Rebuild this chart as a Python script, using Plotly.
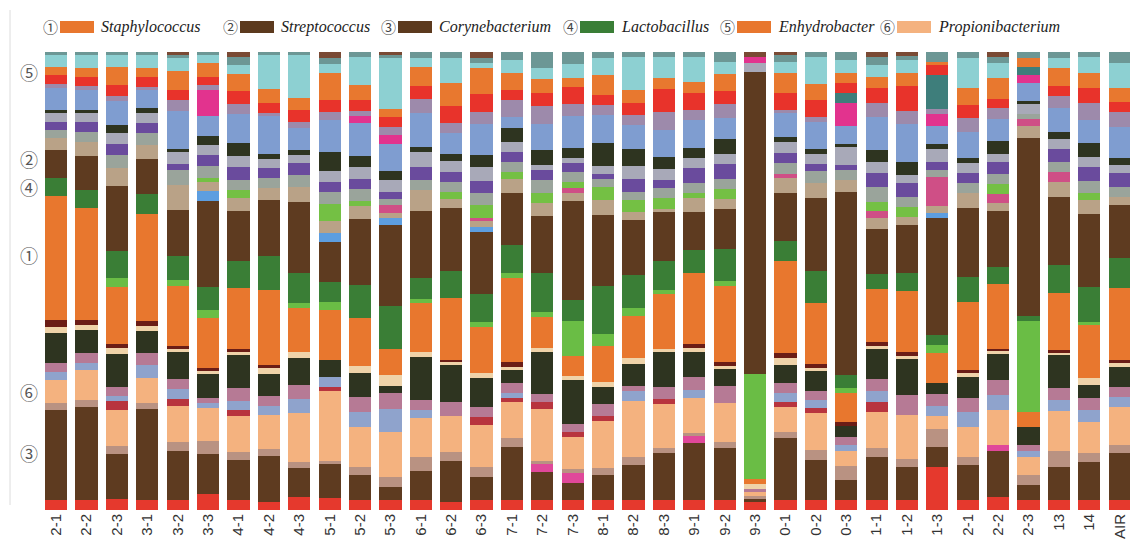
import plotly.graph_objects as go

# Sample labels along the x axis
samples = ["2-1", "2-2", "2-3", "3-1", "3-2", "3-3", "4-1", "4-2", "4-3",
           "5-1", "5-2", "5-3", "6-1", "6-2", "6-3", "7-1", "7-2", "7-3",
           "8-1", "8-2", "8-3", "9-1", "9-2", "9-3", "0-1", "0-2", "0-3",
           "1-1", "1-2", "1-3", "2-1", "2-2", "2-3", "13", "14", "AIR"]

# Relative abundance of each genus per sample (stack is normalised to 100 %), listed bottom to top
red_base = [10, 10, 11, 10, 10, 16, 10, 8, 13, 12, 10, 10, 10, 8, 10, 10, 10, 10, 10, 10, 10, 10, 10, 8, 10, 10, 10, 10, 10, 42, 10, 13, 10, 10, 10, 10]
corynebacterium = [90, 93, 44, 90, 48, 39, 38, 45, 29, 35, 25, 13, 28, 40, 22, 53, 27, 17, 25, 35, 45, 57, 52, 3, 62, 40, 20, 43, 32, 20, 35, 45, 15, 32, 38, 47]
lo_magenta = [0, 0, 0, 0, 0, 0, 0, 0, 0, 0, 0, 0, 0, 0, 0, 0, 8, 10, 0, 0, 0, 7, 0, 0, 0, 0, 0, 0, 0, 0, 0, 6, 0, 0, 0, 0]
lo_tan = [7, 7, 8, 6, 9, 13, 8, 7, 6, 2, 7, 9, 14, 9, 10, 9, 3, 3, 7, 8, 5, 3, 6, 3, 6, 10, 13, 9, 8, 18, 8, 0, 10, 16, 9, 8]
propionibacterium = [23, 30, 35, 25, 36, 33, 35, 33, 49, 71, 40, 45, 38, 36, 41, 36, 50, 32, 46, 57, 42, 35, 39, 4, 25, 37, 15, 36, 43, 12, 30, 34, 18, 39, 31, 38]
lo_red = [0, 0, 9, 0, 7, 0, 6, 0, 0, 4, 0, 0, 0, 0, 7, 4, 7, 5, 5, 0, 5, 0, 0, 0, 5, 5, 0, 10, 0, 0, 0, 0, 0, 0, 0, 0]
lo_blue = [8, 7, 5, 12, 10, 5, 9, 9, 14, 10, 15, 22, 8, 0, 0, 5, 0, 0, 0, 10, 0, 8, 0, 0, 10, 8, 6, 12, 0, 10, 15, 15, 6, 11, 12, 10]
lo_pink = [9, 10, 8, 12, 10, 5, 12, 10, 14, 0, 15, 16, 10, 14, 10, 10, 8, 8, 12, 5, 11, 13, 16, 3, 10, 10, 8, 12, 20, 12, 14, 15, 6, 12, 12, 10]
lo_olive = [30, 23, 33, 22, 27, 24, 32, 21, 27, 17, 23, 7, 42, 36, 28, 13, 41, 43, 17, 22, 34, 25, 17, 0, 18, 20, 11, 30, 35, 11, 21, 26, 17, 32, 13, 20]
lo_cream = [6, 5, 5, 5, 3, 2, 3, 6, 6, 0, 7, 11, 5, 3, 5, 3, 4, 4, 5, 6, 3, 4, 3, 5, 7, 3, 0, 3, 3, 0, 4, 3, 0, 2, 7, 4]
lo_darkred = [7, 5, 4, 5, 3, 3, 3, 3, 0, 0, 0, 0, 0, 2, 0, 5, 0, 0, 0, 0, 0, 4, 4, 0, 5, 4, 4, 4, 4, 0, 3, 2, 0, 3, 0, 3]
staphylococcus = [124, 112, 56, 106, 59, 50, 59, 73, 44, 50, 47, 25, 48, 61, 45, 84, 30, 20, 36, 42, 53, 72, 76, 5, 92, 61, 28, 53, 60, 29, 68, 64, 15, 56, 53, 72]
lightgreen = [0, 0, 9, 0, 6, 8, 0, 0, 5, 8, 0, 0, 4, 0, 5, 5, 5, 35, 12, 8, 4, 0, 5, 106, 0, 0, 5, 0, 0, 8, 0, 0, 91, 0, 3, 0]
lactobacillus = [18, 18, 26, 20, 24, 23, 26, 33, 30, 20, 33, 42, 21, 27, 27, 28, 38, 20, 48, 34, 28, 23, 32, 0, 20, 32, 13, 15, 18, 10, 25, 16, 5, 27, 35, 30]
streptococcus = [28, 34, 64, 34, 45, 85, 49, 55, 71, 41, 65, 80, 66, 62, 60, 52, 55, 98, 70, 55, 47, 38, 40, 305, 48, 73, 180, 45, 47, 115, 69, 55, 177, 67, 72, 53]
mid_sky = [0, 0, 0, 0, 0, 10, 0, 0, 0, 9, 0, 7, 0, 0, 5, 0, 0, 0, 0, 0, 0, 0, 0, 0, 0, 0, 0, 0, 0, 5, 0, 0, 0, 0, 0, 0]
mid_tan = [12, 14, 18, 14, 25, 8, 12, 12, 15, 12, 13, 5, 20, 9, 6, 14, 13, 8, 15, 8, 3, 14, 10, 0, 15, 15, 12, 11, 8, 7, 15, 8, 11, 15, 14, 8]
mid_rose = [0, 0, 0, 0, 0, 0, 0, 0, 0, 0, 0, 8, 0, 0, 3, 0, 0, 5, 0, 0, 0, 0, 0, 0, 4, 0, 0, 7, 0, 28, 0, 9, 7, 9, 0, 0]
mid_green = [0, 0, 0, 0, 0, 4, 8, 0, 0, 17, 5, 0, 0, 7, 12, 7, 10, 6, 13, 12, 10, 5, 10, 0, 0, 0, 0, 9, 10, 0, 0, 10, 0, 0, 7, 0]
mid_grey = [8, 10, 12, 12, 15, 12, 10, 10, 12, 12, 12, 6, 10, 10, 12, 10, 12, 10, 8, 8, 10, 10, 10, 0, 12, 12, 10, 15, 10, 7, 10, 10, 5, 10, 12, 10]
purple = [8, 10, 11, 10, 6, 11, 13, 10, 12, 10, 10, 6, 13, 10, 12, 10, 10, 8, 5, 13, 8, 15, 14, 0, 10, 8, 5, 14, 13, 8, 10, 12, 0, 13, 14, 14]
up_grey = [9, 9, 11, 10, 12, 10, 10, 8, 8, 11, 12, 12, 15, 10, 13, 10, 5, 5, 8, 13, 10, 10, 10, 9, 11, 10, 17, 12, 8, 13, 10, 8, 10, 10, 10, 8]
up_olive = [3, 3, 8, 5, 3, 9, 13, 5, 5, 19, 10, 9, 5, 7, 12, 14, 15, 10, 23, 17, 12, 10, 15, 0, 5, 5, 3, 12, 13, 5, 5, 12, 3, 7, 14, 7]
blue = [22, 20, 23, 17, 38, 20, 28, 37, 22, 33, 33, 27, 33, 21, 30, 11, 25, 32, 27, 25, 26, 28, 21, 0, 24, 27, 18, 33, 37, 17, 26, 22, 18, 23, 23, 31]
magenta = [0, 0, 0, 0, 0, 25, 0, 0, 0, 0, 7, 8, 0, 0, 0, 0, 0, 0, 0, 0, 0, 0, 0, 6, 0, 0, 23, 0, 0, 12, 0, 0, 8, 0, 0, 0]
up_mauve = [4, 4, 5, 3, 10, 5, 10, 3, 6, 8, 5, 8, 14, 10, 12, 17, 17, 12, 10, 10, 17, 10, 14, 0, 3, 5, 0, 14, 13, 5, 14, 11, 0, 12, 17, 15]
teal = [0, 0, 0, 0, 0, 0, 0, 0, 0, 0, 0, 0, 0, 0, 0, 0, 0, 0, 0, 0, 0, 0, 0, 0, 0, 0, 10, 0, 0, 33, 0, 0, 8, 0, 0, 0]
up_red = [9, 9, 11, 10, 10, 8, 12, 10, 12, 12, 11, 10, 13, 17, 17, 10, 13, 16, 10, 12, 22, 17, 13, 0, 17, 17, 9, 15, 25, 10, 13, 9, 0, 10, 15, 10]
enhydrobacter = [8, 9, 17, 9, 19, 14, 17, 14, 12, 27, 14, 8, 18, 22, 25, 17, 14, 9, 20, 13, 11, 11, 17, 0, 20, 16, 10, 11, 12, 3, 17, 20, 9, 17, 15, 14]
cyan = [12, 13, 12, 13, 13, 8, 8, 33, 43, 9, 28, 50, 9, 25, 5, 13, 10, 14, 17, 33, 20, 25, 12, 0, 11, 27, 13, 12, 13, 0, 30, 15, 0, 10, 16, 25]
top_grey = [3, 3, 3, 3, 3, 3, 8, 3, 3, 6, 5, 3, 6, 6, 5, 8, 16, 12, 6, 5, 5, 5, 10, 0, 7, 5, 8, 8, 4, 10, 6, 6, 6, 6, 5, 11]
top_brown = [0, 0, 0, 0, 3, 0, 5, 0, 0, 6, 0, 3, 0, 0, 6, 0, 0, 0, 0, 0, 0, 0, 0, 5, 3, 0, 0, 5, 4, 0, 0, 5, 0, 0, 0, 0]

# Legend entries: circled index, genus name, swatch colour
legend_marks = ["①", "②", "③", "④", "⑤", "⑥"]
legend_names = ["Staphylococcus", "Streptococcus", "Corynebacterium",
                "Lactobacillus", "Enhydrobacter", "Propionibacterium"]
legend_colors = ["#e8772e", "#5c3a1e", "#5c3a1e", "#3a7e36", "#e8772e", "#f4b27f"]

# Side markers placed beside the first bar
side_marks = ["⑤", "②", "④", "①", "⑥", "③"]

stack = [
    ("red_base", red_base, "#e5392d"),
    ("Corynebacterium", corynebacterium, "#5e3b20"),
    ("lo_magenta", lo_magenta, "#e0489a"),
    ("lo_tan", lo_tan, "#b99282"),
    ("Propionibacterium", propionibacterium, "#f4b27f"),
    ("lo_red", lo_red, "#b8343e"),
    ("lo_blue", lo_blue, "#8fa3cc"),
    ("lo_pink", lo_pink, "#b67a95"),
    ("lo_olive", lo_olive, "#2e3420"),
    ("lo_cream", lo_cream, "#efd3a9"),
    ("lo_darkred", lo_darkred, "#6b1d16"),
    ("Staphylococcus", staphylococcus, "#e8772e"),
    ("lightgreen", lightgreen, "#6abd45"),
    ("Lactobacillus", lactobacillus, "#3a7e36"),
    ("Streptococcus", streptococcus, "#5e3b20"),
    ("mid_sky", mid_sky, "#5d9ee0"),
    ("mid_tan", mid_tan, "#b9a287"),
    ("mid_rose", mid_rose, "#cf4f86"),
    ("mid_green", mid_green, "#74c044"),
    ("mid_grey", mid_grey, "#9aa49b"),
    ("purple", purple, "#6a4b9d"),
    ("up_grey", up_grey, "#a8a9b8"),
    ("up_olive", up_olive, "#2e3420"),
    ("blue", blue, "#7f9dd0"),
    ("magenta", magenta, "#e2338e"),
    ("up_mauve", up_mauve, "#9d8aab"),
    ("teal", teal, "#3e7e7b"),
    ("up_red", up_red, "#e8332b"),
    ("Enhydrobacter", enhydrobacter, "#e8782f"),
    ("cyan", cyan, "#8dd0d2"),
    ("top_grey", top_grey, "#6c9795"),
    ("top_brown", top_brown, "#7a4a34"),
]

x_pos = list(range(len(samples)))

fig = go.Figure()
for name, vals, color in stack:
    fig.add_trace(go.Bar(x=x_pos, y=vals, name=name,
                         marker=dict(color=color, line=dict(width=0)),
                         hoverinfo="name+y"))

W, H = 1130, 540
L, R, T, B = 41, 0, 52, 30
PW, PH = W - L - R, H - T - B


def px(x):
    return (x - L) / PW


def py(y):
    return (H - B - y) / PH


annotations = []
shapes = []

CIRCLE_FONT = "Noto Sans CJK SC, DejaVu Sans"
SERIF_FONT = "Liberation Serif, Times New Roman, serif"

# Legend row
leg_circle_x = [50, 230, 388, 570, 727, 887]
leg_box_x = [60, 240, 398, 580, 737, 897]
leg_y = 27
for mark, name, color, cx, bx in zip(legend_marks, legend_names, legend_colors,
                                     leg_circle_x, leg_box_x):
    annotations.append(dict(x=px(cx), y=py(leg_y), xref="paper", yref="paper",
                            text=mark, showarrow=False, xanchor="center", yanchor="middle",
                            font=dict(family=CIRCLE_FONT, size=15, color="#444")))
    shapes.append(dict(type="rect", xref="paper", yref="paper",
                       x0=px(bx), x1=px(bx + 34), y0=py(leg_y + 6), y1=py(leg_y - 6),
                       fillcolor=color, line=dict(width=0)))
    annotations.append(dict(x=px(bx + 39), y=py(leg_y), xref="paper", yref="paper",
                            text="<i>" + name + "</i>", showarrow=False,
                            xanchor="left", yanchor="middle",
                            font=dict(family=SERIF_FONT, size=16, color="#222")))

# Circled markers on the left
side_y = [72, 159, 187, 255, 392, 453]
for mark, yy in zip(side_marks, side_y):
    annotations.append(dict(x=px(29), y=py(yy), xref="paper", yref="paper",
                            text=mark, showarrow=False, xanchor="center", yanchor="middle",
                            font=dict(family=CIRCLE_FONT, size=18, color="#555")))

# Faint frame line at the left edge
shapes.append(dict(type="line", xref="paper", yref="paper",
                   x0=px(10), x1=px(10), y0=py(505), y1=py(10),
                   line=dict(color="#dcdcdc", width=1)))

fig.update_layout(
    width=W, height=H,
    margin=dict(l=L, r=R, t=T, b=B, pad=0),
    barmode="stack", barnorm="percent", bargap=0.27,
    paper_bgcolor="white", plot_bgcolor="white",
    showlegend=False,
    annotations=annotations, shapes=shapes,
    xaxis=dict(range=[-0.5, 35.34], tickmode="array", tickvals=x_pos, ticktext=samples,
               tickangle=-90, showgrid=False, zeroline=False, showline=False, ticks="",
               tickfont=dict(family="Liberation Sans", size=15, color="#333"),
               automargin=False),
    yaxis=dict(range=[0, 100], showgrid=False, zeroline=False, showticklabels=False,
               showline=False, ticks="", automargin=False),
)

fig.write_html("out.html")
